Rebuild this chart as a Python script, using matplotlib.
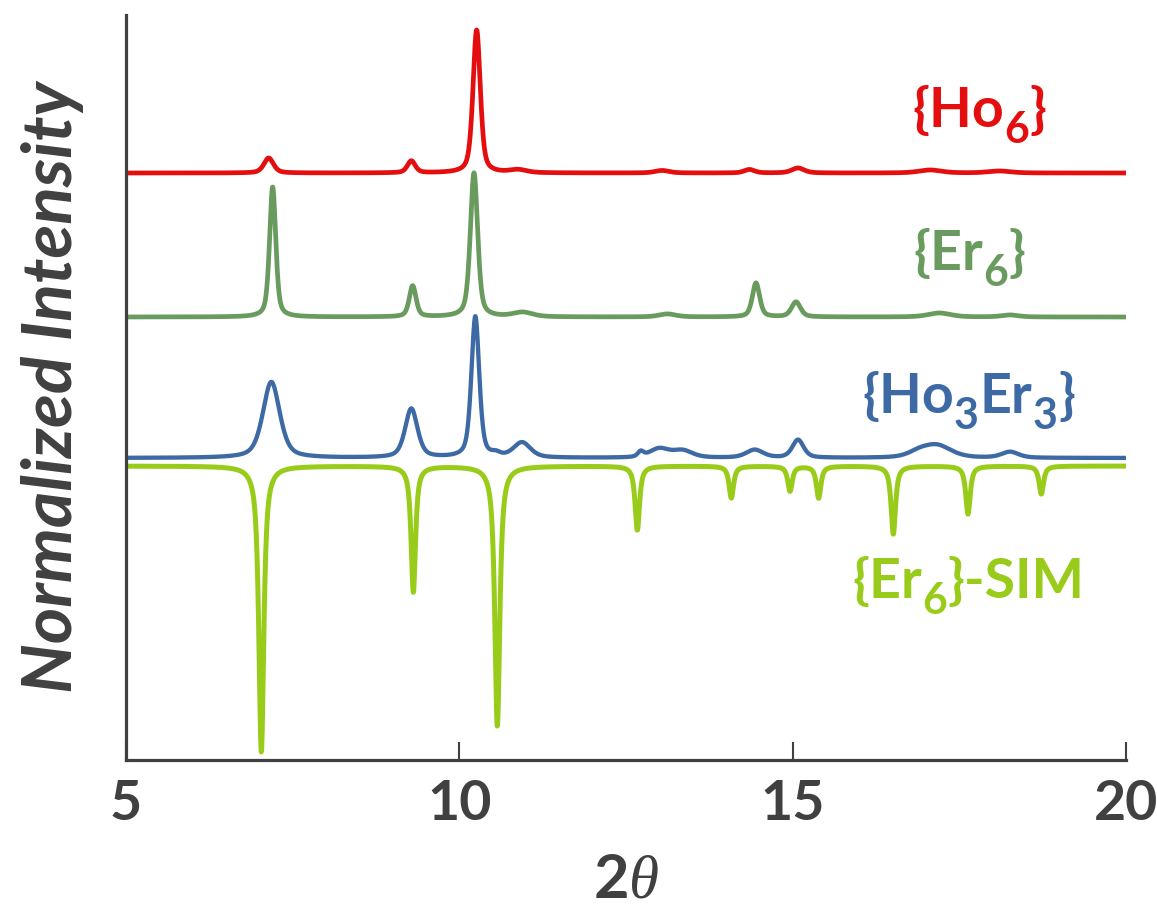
import numpy as np
import matplotlib
matplotlib.use('Agg')
import matplotlib.pyplot as plt
from matplotlib.transforms import IdentityTransform

plt.rcParams['mathtext.fontset'] = 'custom'
plt.rcParams['mathtext.rm'] = 'Lato:bold'
plt.rcParams['mathtext.bf'] = 'Lato:bold'
plt.rcParams['mathtext.it'] = 'Liberation Serif:italic'

TXT = '#404040'

# peak tables: position (2theta), height, fwhm
# heights are in plot units (0..745 over the axis height)
ho6_pos = [7.14, 9.28, 10.26, 10.88, 13.04, 14.35, 15.08, 17.06, 18.10]
ho6_hgt = [15, 12, 143, 3, 2.5, 3.5, 5, 3, 2]
ho6_wid = [0.17, 0.14, 0.13, 0.30, 0.25, 0.18, 0.22, 0.40, 0.40]

er6_pos = [7.20, 9.30, 10.22, 10.95, 13.12, 14.45, 15.05, 17.20, 18.26]
er6_hgt = [130, 31, 144, 4.5, 3, 34, 15, 4, 2]
er6_wid = [0.11, 0.12, 0.13, 0.35, 0.30, 0.13, 0.16, 0.40, 0.30]

hoer_pos = [7.18, 9.28, 10.24, 10.55, 10.94, 12.72, 13.00, 13.35, 14.43, 15.08, 16.90, 17.17, 18.26]
hoer_hgt = [76, 49, 141, 3, 15, 5, 9, 7, 8, 18, 5, 12, 6]
hoer_wid = [0.30, 0.22, 0.14, 0.15, 0.30, 0.10, 0.35, 0.35, 0.30, 0.20, 0.40, 0.50, 0.30]

sim_pos = [7.03, 9.31, 10.57, 12.67, 14.08, 14.96, 15.39, 16.51, 17.63, 18.73]
sim_hgt = [-286, -126, -260, -64, -32, -25, -32, -68, -48, -28]
sim_wid = [0.09, 0.08, 0.09, 0.08, 0.08, 0.08, 0.08, 0.08, 0.08, 0.08]

offsets = [587, 443, 302, 294]
colors = ['#E50E0E', '#6A9B5E', '#3D6AA5', '#99CC1A']
lws = [3.4, 3.4, 3.1, 3.6]
etas = [0.5, 0.5, 0.5, 0.85]
# label pieces: (text, is_subscript)
names = [[('{Ho', 0), ('6', 1), ('}', 0)],
         [('{Er', 0), ('6', 1), ('}', 0)],
         [('{Ho', 0), ('3', 1), ('Er', 0), ('3', 1), ('}', 0)],
         [('{Er', 0), ('6', 1), ('}-SIM', 0)]]
label_xy = [(17.80, 633), (17.65, 490), (17.64, 347), (17.64, 162)]

tt = np.linspace(5, 20, 4001)


def pattern(pos, hgt, wid, eta):
    y = np.zeros_like(tt)
    for p, h, w in zip(pos, hgt, wid):
        lor = 1.0 / (1.0 + ((tt - p) / (w / 2)) ** 2)
        gau = np.exp(-4 * np.log(2) * ((tt - p) / w) ** 2)
        y += h * (eta * lor + (1 - eta) * gau)
    return y


fig = plt.figure(figsize=(11.57, 9.10), dpi=100)
ax = fig.add_axes([0.1089, 0.1648, 0.8643, 0.8187])

tables = [(ho6_pos, ho6_hgt, ho6_wid), (er6_pos, er6_hgt, er6_wid),
          (hoer_pos, hoer_hgt, hoer_wid), (sim_pos, sim_hgt, sim_wid)]
# draw sim first so the blue trace sits on top
for i in [3, 2, 1, 0]:
    pos, hgt, wid = tables[i]
    ax.plot(tt, offsets[i] + pattern(pos, hgt, wid, etas[i]), color=colors[i], lw=lws[i],
            solid_capstyle='butt')

ax.set_xlim(5, 20)
ax.set_ylim(0, 745)

renderer = fig.canvas.get_renderer()


def rich_label(x, y, parts, color, size=40, sub_size=31, sub_drop=16):
    x0, y0 = ax.transData.transform((x, y))
    texts = []
    cur = 0
    for s, sub in parts:
        t = fig.text(0, 0, s, color=color, fontsize=sub_size if sub else size,
                     family='Lato', fontweight='bold', ha='left', va='baseline',
                     transform=IdentityTransform())
        w = t.get_window_extent(renderer).width
        texts.append((t, cur, sub))
        cur += w + (1 if sub else 0)
    for t, off, sub in texts:
        t.set_position((x0 - cur / 2 + off, y0 - (sub_drop if sub else 0)))


for i in range(4):
    rich_label(label_xy[i][0], label_xy[i][1], names[i], colors[i])

ax.set_xticks([5, 10, 15, 20])
ax.set_yticks([])
ax.tick_params(axis='x', direction='in', length=13, width=1.5, color=TXT, pad=14,
               labelsize=40, labelcolor=TXT)
for lab in ax.get_xticklabels():
    lab.set_family('Lato')
    lab.set_fontweight('bold')
for s in ['top', 'right']:
    ax.spines[s].set_visible(False)
for s in ['left', 'bottom']:
    ax.spines[s].set_linewidth(2.3)
    ax.spines[s].set_color(TXT)

ax.set_xlabel(r'$\mathrm{2}\mathit{\theta}$', fontsize=44, color=TXT, labelpad=16)
ax.set_ylabel('Normalized Intensity', fontsize=50, color=TXT, family='Lato',
              fontweight='bold', style='italic', labelpad=30)

fig.savefig('out.png', dpi=100)
